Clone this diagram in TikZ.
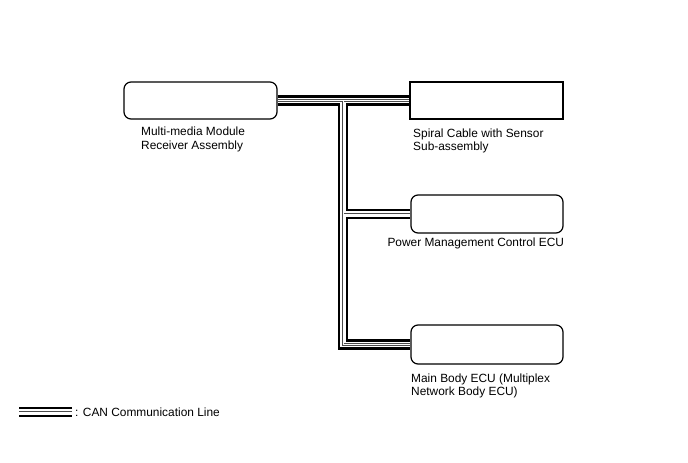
\documentclass[tikz,border=0pt]{standalone}
\usepackage{fontspec}
\setmainfont{Liberation Sans}
\usetikzlibrary{backgrounds}
\begin{document}
\begin{tikzpicture}[x=1pt,y=-1pt,
  ecubox/.style={draw=black,line width=1.2pt,rounded corners=7pt,minimum width=153pt,minimum height=37pt,inner sep=0pt,fill=white},
  sqbox/.style={draw=black,line width=1.1pt,minimum width=153pt,minimum height=37pt,inner sep=0pt,fill=white},
  lbl/.style={anchor=north west,inner sep=0pt,align=left,font=\fontsize{11.9pt}{13.5pt}\selectfont}]
\useasboundingbox (0,0) rectangle (688,463);
\node[ecubox] (mm) at (200.5,100.5) {};
\node[sqbox] (sc) at (486.5,100.5) {};
\node[ecubox,minimum width=152pt,minimum height=38pt] (pm) at (487,214) {};
\node[ecubox,minimum width=152pt,minimum height=39pt] (mb) at (487,344.5) {};
\coordinate (j1) at (343,100.5);
\coordinate (lg1) at (19,412);
\coordinate (lg2) at (72,412);
\begin{scope}[on background layer]
\foreach \w/\c in {10.5/black,5.8/white,2.6/black!70,0.8/white}{
  \draw[line width=\w pt,draw=\c,line cap=butt,line join=miter] (mm.east) -- (sc.west);
  \draw[line width=\w pt,draw=\c,line cap=butt,line join=miter] (j1) |- (mb.west);
  \draw[line width=\w pt,draw=\c,line cap=butt,line join=miter] (j1 |- pm.west) -- (pm.west);
  \draw[line width=\w pt,draw=\c,line cap=butt,line join=miter] (lg1) -- (lg2);
}
\end{scope}
\node[lbl] (mmt) at (141,126.7) {Multi-media Module\\Receiver Assembly};
\node[lbl] (sct) at (413,128.3) {Spiral Cable with Sensor\\Sub-assembly};
\node[lbl] (pmt) at (387.3,237.7) {Power Management Control ECU};
\node[lbl] (mbt) at (411,373.3) {Main Body ECU (Multiplex\\Network Body ECU)};
\node[lbl] (lgt) at (75,407.7) {: CAN Communication Line};
\end{tikzpicture}
\end{document}
